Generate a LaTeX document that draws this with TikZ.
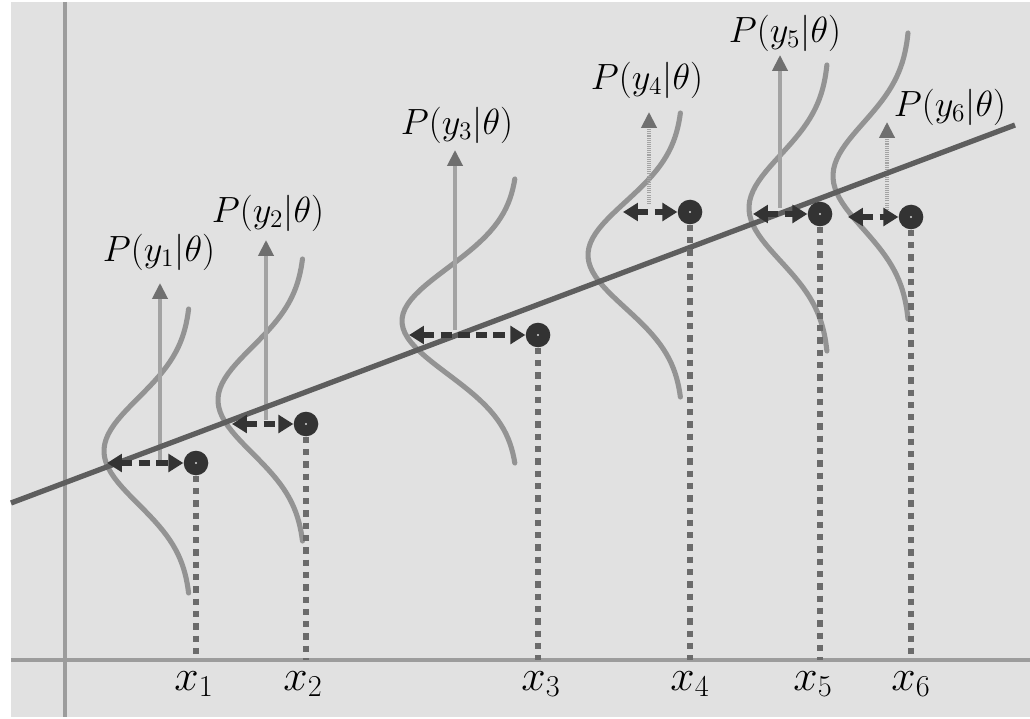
\documentclass[tikz,border=0pt]{standalone}
\usepackage{amsmath}
\usetikzlibrary{positioning,arrows.meta,calc}
\definecolor{BgGray}{HTML}{E1E1E1}
\definecolor{AxisGray}{HTML}{9C9C9C}
\definecolor{LineGray}{HTML}{5E5E5E}
\definecolor{CurveGray}{HTML}{939393}
\definecolor{ArrowGray}{HTML}{A3A3A3}
\definecolor{HeadGray}{HTML}{6F6F6F}
\definecolor{DropGray}{HTML}{6B6B6B}
\definecolor{PtDark}{HTML}{333333}

\begin{document}
\begin{tikzpicture}[
  x=0.02cm, y=-0.02cm,
  axis/.style={draw=AxisGray, line width=2.3pt},
  fitline/.style={draw=LineGray, line width=3pt},
  density/.style={draw=CurveGray, line width=2.9pt, line cap=round},
  datapt/.style={circle, fill=PtDark, minimum size=14pt, inner sep=0pt},
  dropline/.style={draw=DropGray, line width=3.6pt, dash pattern=on 3.6pt off 3.4pt},
  resid/.style={{Triangle[length=8.5pt,width=10pt]}-{Triangle[length=8.5pt,width=10pt]}, draw=PtDark, line width=3.2pt, dash pattern=on 6.5pt off 3.5pt},
  probarrow/.style={-{Triangle[length=9pt,width=8.5pt,color=HeadGray]}, draw=ArrowGray, line width=2.1pt},
  hatched/.style={dash pattern=on 0.6pt off 0.6pt},
  plabel/.style={font=\fontsize{19.5}{22}\selectfont},
  xlabel/.style={font=\fontsize{25}{28}\selectfont}
]
\useasboundingbox (0,0) rectangle (1030,719);
\fill[BgGray] (11,2) rectangle (1030,717);

% axes
\coordinate (o) at (65,660);
\draw[axis] (11,660) -- (1030,660);
\draw[axis] (65,2) -- (65,717);

% densities
\draw[density] plot[domain=-142:142, samples=60, variable=\t] ({191-87*exp(-((\t)/53)^2/2)}, {451+\t});
\draw[density] plot[domain=-141:141, samples=60, variable=\t] ({305-87*exp(-((\t)/53)^2/2)}, {400+\t});
\draw[density] plot[domain=-142:142, samples=60, variable=\t] ({518-116*exp(-((\t)/53)^2/2)}, {321+\t});
\draw[density] plot[domain=-142:142, samples=60, variable=\t] ({683-95*exp(-((\t)/53)^2/2)}, {255+\t});
\draw[density] plot[domain=-143:143, samples=60, variable=\t] ({829-80*exp(-((\t)/53)^2/2)}, {208+\t});
\draw[density] plot[domain=-143:143, samples=60, variable=\t] ({910-77*exp(-((\t)/53)^2/2)}, {176+\t});

% probability arrows and labels
\coordinate (a1) at (160,461);
\coordinate (t1) at (160,283);
\coordinate (a2) at (266,420);
\coordinate (t2) at (266,240);
\coordinate (a3) at (455,330);
\coordinate (t3) at (455,150);
\coordinate (a4) at (649,204);
\coordinate (t4) at (649,112);
\coordinate (a5) at (780,208);
\coordinate (t5) at (780,55);
\coordinate (a6) at (887,212);
\coordinate (t6) at (887,122);
\draw[probarrow] (a1) -- (t1);
\draw[probarrow] (a2) -- (t2);
\draw[probarrow] (a3) -- (t3);
\draw[probarrow, hatched] (a4) -- (t4);
\draw[probarrow] (a5) -- (t5);
\draw[probarrow, hatched] (a6) -- (t6);
\node[plabel] (p1) at (159,252) {$P(y_1|\theta)$};
\node[plabel] (p2) at (268,213) {$P(y_2|\theta)$};
\node[plabel] (p3) at (457,125) {$P(y_3|\theta)$};
\node[plabel] (p4) at (647,80) {$P(y_4|\theta)$};
\node[plabel] (p5) at (785,33) {$P(y_5|\theta)$};
\node[plabel] (p6) at (950,107) {$P(y_6|\theta)$};

% fitted line
\coordinate (l0) at (11,503);
\coordinate (l1) at (1015,125);
\draw[fitline] (l0) -- (l1);

% data points
\node[datapt] (d1) at (196,463) {};
\node[datapt] (d2) at (306,424) {};
\node[datapt] (d3) at (538,335) {};
\node[datapt] (d4) at (690,212) {};
\node[datapt] (d5) at (820,214) {};
\node[datapt] (d6) at (911,217) {};

% drop lines to the axis
\draw[dropline] (d1.south) -- (d1 |- o);
\draw[dropline] (d2.south) -- (d2 |- o);
\draw[dropline] (d3.south) -- (d3 |- o);
\draw[dropline] (d4.south) -- (d4 |- o);
\draw[dropline] (d5.south) -- (d5 |- o);
\draw[dropline] (d6.south) -- (d6 |- o);

% residuals
\coordinate (r1) at (107,463);
\coordinate (r2) at (232,424);
\coordinate (r3) at (409,335);
\coordinate (r4) at (623,212);
\coordinate (r5) at (753,214);
\coordinate (r6) at (848,217);
\draw[resid] (r1) -- (d1);
\draw[resid] (r2) -- (d2);
\draw[resid] (r3) -- (d3);
\draw[resid] (r4) -- (d4);
\draw[resid] (r5) -- (d5);
\draw[resid] (r6) -- (d6);

% centre marks
\foreach \n in {d1,d2,d3,d4,d5,d6}
  \fill[white!80!PtDark] (\n) circle (1.2);

% x labels
\node[xlabel] (x1) at (194,684) {$x_1$};
\node[xlabel] (x2) at (303,684) {$x_2$};
\node[xlabel] (x3) at (541,684) {$x_3$};
\node[xlabel] (x4) at (690,684) {$x_4$};
\node[xlabel] (x5) at (813,684) {$x_5$};
\node[xlabel] (x6) at (911,684) {$x_6$};
\end{tikzpicture}
\end{document}
